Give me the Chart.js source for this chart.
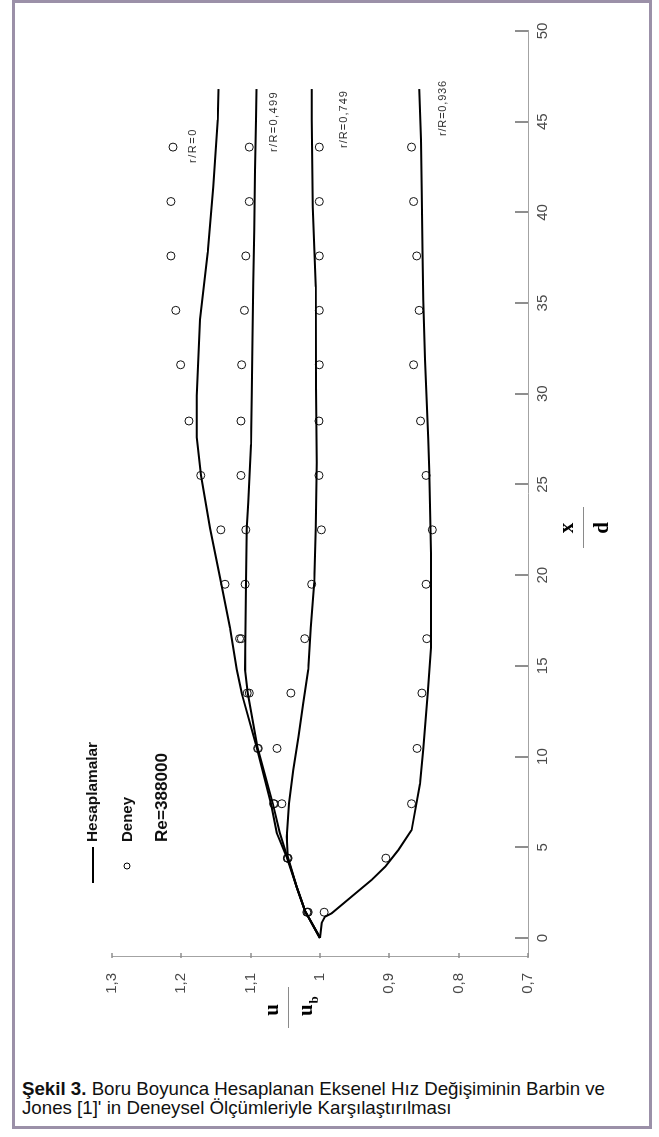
<!DOCTYPE html>
<html>
<head>
<meta charset="utf-8">
<script src="https://cdn.jsdelivr.net/npm/chart.js@4.4.1/dist/chart.umd.min.js"></script>
<style>
  html, body { margin: 0; padding: 0; background: #fff; }
  body { width: 659px; height: 1137px; position: relative; overflow: hidden; }
  #frame { position: absolute; left: 12px; top: 0; width: 640px; height: 1129px; box-sizing: border-box; border: 3px solid #9b90a8; }
  /* the plot is laid out landscape and turned a quarter turn counter-clockwise */
  #plot { position: absolute; left: 15px; top: 1060px; width: 1056px; height: 633px; transform: rotate(-90deg); transform-origin: 0 0; }
  #plot canvas { display: block; }
  .cap { position: absolute; left: 22px; font-family: "Liberation Sans", Arial, sans-serif; font-size: 18.5px; line-height: 19px; color: #111; white-space: nowrap; transform-origin: 0 0; }
</style>
</head>
<body>
<div id="frame"></div>
<div id="plot"><canvas id="c" width="1056" height="633"></canvas></div>
<div class="cap" id="cap1" style="top:1079px"><b>Şekil 3.</b> Boru Boyunca Hesaplanan Eksenel Hız Değişiminin Barbin ve</div>
<div class="cap" id="cap2" style="top:1098px">Jones [1]' in Deneysel Ölçümleriyle Karşılaştırılması</div>
<script>
// axis ticks
const xTicks = [0, 5, 10, 15, 20, 25, 30, 35, 40, 45, 50];
const xTickLabels = ['0', '5', '10', '15', '20', '25', '30', '35', '40', '45', '50'];
const uTicks = [0.7, 0.8, 0.9, 1.0, 1.1, 1.2, 1.3];
const uTickLabels = ['0,7', '0,8', '0,9', '1', '1,1', '1,2', '1,3'];

// measured stations (Barbin & Jones), x/d
const xdExp = [1.42, 4.4, 7.4, 10.45, 13.5, 16.5, 19.5, 22.5, 25.5, 28.5, 31.6, 34.6, 37.6, 40.6, 43.6];
// measured u/ub at each radius
const expR0    = [1.018, 1.047, 1.067, 1.090, 1.105, 1.116, 1.137, 1.143, 1.172, 1.189, 1.201, 1.208, 1.215, 1.215, 1.212];
const expR0499 = [1.017, 1.046, 1.066, 1.089, 1.102, 1.1135, 1.108, 1.107, 1.114, 1.114, 1.113, 1.109, 1.107, 1.102, 1.102];
const expR0749 = [1.019, 1.047, 1.055, 1.062, 1.042, 1.022, 1.012, 0.998, 1.0015, 1.0015, 1.001, 1.001, 1.001, 1.001, 1.001];
const expR0936 = [0.994, 0.905, 0.868, 0.860, 0.853, 0.846, 0.847, 0.838, 0.847, 0.855, 0.865, 0.857, 0.8605, 0.865, 0.868];

// computed profiles (Hesaplamalar)
const calcR0x = [0, 1.5, 2.8, 4.46, 5.8, 7.4, 10.5, 13.5, 14.8, 17.1, 19.6, 22.6, 25.5, 27.6, 29.9, 34.1, 37.8, 41.4, 45.1, 46.8];
const calcR0u = [1.0, 1.0217, 1.0336, 1.048, 1.0625, 1.0707, 1.0913, 1.113, 1.1202, 1.1298, 1.1428, 1.1587, 1.1717, 1.1779, 1.1779, 1.1731, 1.162, 1.1539, 1.1476, 1.1464];

const calcR0499x = [0, 1.5, 2.8, 4.46, 5.8, 7.4, 10.5, 13.5, 14.8, 19.6, 22.6, 24.0, 27.2, 29.9, 33.1, 36.1, 39.0, 42.3, 45.1, 46.8];
const calcR0499u = [1.0, 1.0217, 1.0336, 1.047, 1.058, 1.068, 1.09, 1.1043, 1.1082, 1.1068, 1.1058, 1.1034, 1.0995, 1.0985, 1.0975, 1.0962, 1.0948, 1.0938, 1.0923, 1.0916];

const calcR0749x = [0, 1.5, 2.8, 4.48, 5.58, 7.42, 9.26, 11.1, 12.95, 14.8, 17.1, 19.6, 22.6, 26.2, 30.4, 35.9, 40.3, 45.1, 46.8];
const calcR0749u = [1.0, 1.0217, 1.0336, 1.0466, 1.048, 1.0447, 1.0385, 1.031, 1.024, 1.0168, 1.0134, 1.0082, 1.0062, 1.0048, 1.0058, 1.0062, 1.0105, 1.012, 1.012];

const calcR0936x = [0, 0.83, 1.17, 1.36, 2.28, 3.2, 3.93, 4.85, 5.95, 8.5, 10.4, 13.5, 16.0, 21.2, 25.8, 27.5, 31.9, 35.2, 37.9, 41.1, 44.0, 46.8];
const calcR0936u = [1.0, 0.9976, 0.9928, 0.9832, 0.9543, 0.9255, 0.906, 0.887, 0.8678, 0.8558, 0.851, 0.8447, 0.84, 0.84, 0.8424, 0.8438, 0.8486, 0.851, 0.852, 0.8533, 0.8543, 0.8568];

const radiusLabels = ['r/R=0', 'r/R=0,499', 'r/R=0,749', 'r/R=0,936'];

const pairs = (xs, ys) => xs.map((v, i) => ({ x: v, y: ys[i] }));

function lineSet(xs, ys) {
  return { data: pairs(xs, ys), showLine: true, borderColor: '#000', borderWidth: 2, pointRadius: 0, tension: 0, fill: false };
}
function pointSet(ys) {
  return { data: pairs(xdExp, ys), showLine: false, pointRadius: 4, pointBorderWidth: 1, pointBorderColor: '#111', pointBackgroundColor: 'rgba(0,0,0,0)' };
}

// draws text so that it spans a given width, by letter spacing then scaling
function fitText(ctx, text, x, y, width, spaced) {
  ctx.save();
  let w = ctx.measureText(text).width;
  if (spaced && 'letterSpacing' in ctx) {
    const ls = (width - w) / text.length;
    ctx.letterSpacing = ls.toFixed(2) + 'px';
    w = ctx.measureText(text).width;
  }
  ctx.translate(x, y);
  ctx.scale(width / w, 1);
  ctx.fillText(text, 0, 0);
  ctx.restore();
}

const decor = {
  id: 'decor',
  afterDraw(chart) {
    const { ctx, chartArea: a, scales: { x, y } } = chart;
    ctx.save();
    // inward tick marks
    ctx.strokeStyle = '#8e8e8e';
    ctx.lineWidth = 2;
    xTicks.forEach(v => {
      const p = Math.round(x.getPixelForValue(v));
      ctx.beginPath(); ctx.moveTo(p, a.bottom); ctx.lineTo(p, a.bottom - 13); ctx.stroke();
    });
    ctx.lineWidth = 1.5;
    uTicks.forEach(v => {
      const p = Math.round(y.getPixelForValue(v));
      ctx.beginPath(); ctx.moveTo(a.left - 1, p); ctx.lineTo(a.left + 4, p); ctx.stroke();
    });

    // axis titles as stacked fractions
    ctx.fillStyle = '#000';
    ctx.textAlign = 'center';
    ctx.textBaseline = 'alphabetic';
    ctx.font = 'bold 21px "Liberation Serif", serif';
    ctx.fillText('x', 532, 558);
    ctx.fillText('d', 532, 593);
    ctx.fillText('u', 50, 263);
    ctx.textAlign = 'left';
    ctx.fillText('u', 44, 297);
    ctx.font = 'bold 13px "Liberation Serif", serif';
    ctx.fillText('b', 56.5, 303);
    ctx.strokeStyle = '#8a8a8a';
    ctx.lineWidth = 1;
    ctx.beginPath(); ctx.moveTo(512, 568.5); ctx.lineTo(553, 568.5); ctx.stroke();
    ctx.beginPath(); ctx.moveTo(32, 273.5); ctx.lineTo(73, 273.5); ctx.stroke();

    // legend
    ctx.strokeStyle = '#000';
    ctx.lineWidth = 2;
    ctx.beginPath(); ctx.moveTo(177, 78); ctx.lineTo(213, 78); ctx.stroke();
    ctx.lineWidth = 1;
    ctx.beginPath(); ctx.arc(194, 112, 3, 0, Math.PI * 2); ctx.stroke();
    ctx.textBaseline = 'middle';
    ctx.textAlign = 'left';
    ctx.fillStyle = '#111';
    ctx.font = 'bold 14px "Liberation Sans", Arial, sans-serif';
    fitText(ctx, 'Hesaplamalar', 218, 78, 100, false);
    fitText(ctx, 'Deney', 218, 113, 45, false);
    ctx.font = 'bold 17px "Liberation Sans", Arial, sans-serif';
    fitText(ctx, 'Re=388000', 218, 147, 89, false);

    // radius labels beside each profile
    ctx.fillStyle = '#333';
    ctx.font = '11px "Liberation Sans", Arial, sans-serif';
    fitText(ctx, radiusLabels[0], 897, 178, 35, true);
    fitText(ctx, radiusLabels[1], 908, 259, 61, true);
    fitText(ctx, radiusLabels[2], 912, 329, 58, true);
    fitText(ctx, radiusLabels[3], 924, 428, 56, true);
    ctx.restore();
  }
};

const tickFont = { family: '"Liberation Sans", Arial, sans-serif', size: 15 };

new Chart(document.getElementById('c'), {
  type: 'scatter',
  data: {
    datasets: [
      lineSet(calcR0x, calcR0u),
      lineSet(calcR0499x, calcR0499u),
      lineSet(calcR0749x, calcR0749u),
      lineSet(calcR0936x, calcR0936u),
      pointSet(expR0),
      pointSet(expR0499),
      pointSet(expR0749),
      pointSet(expR0936)
    ]
  },
  options: {
    responsive: false,
    maintainAspectRatio: false,
    animation: false,
    events: [],
    layout: { padding: { top: 97, right: 27, left: 0, bottom: 0 } },
    plugins: { legend: { display: false }, tooltip: { enabled: false } },
    scales: {
      x: {
        type: 'linear', min: -1.05, max: 50,
        afterBuildTicks(s) { s.ticks = xTicks.map(v => ({ value: v })); },
        afterFit(s) { s.height = 120; },
        grid: { display: false, drawTicks: false },
        border: { display: true, color: '#a3a3a3', width: 1 },
        ticks: { padding: 6, color: '#4a4a4a', font: tickFont, maxRotation: 0, autoSkip: false,
                 callback: (v, i) => xTickLabels[i] }
      },
      y: {
        type: 'linear', min: 0.7, max: 1.3,
        afterBuildTicks(s) { s.ticks = uTicks.map(v => ({ value: v })); },
        afterFit(s) { s.width = 103; },
        grid: { display: false, drawTicks: false },
        border: { display: true, color: '#a3a3a3', width: 1 },
        ticks: { padding: 16, color: '#4a4a4a', font: tickFont, autoSkip: false,
                 callback: (v, i) => uTickLabels[i] }
      }
    }
  },
  plugins: [decor]
});

// caption: condensed to its column width
const cap1 = document.getElementById('cap1');
const cap2 = document.getElementById('cap2');
const k = 583 / cap1.getBoundingClientRect().width;
cap1.style.transform = 'scaleX(' + k + ')';
cap2.style.transform = 'scaleX(' + k + ')';
</script>
</body>
</html>
